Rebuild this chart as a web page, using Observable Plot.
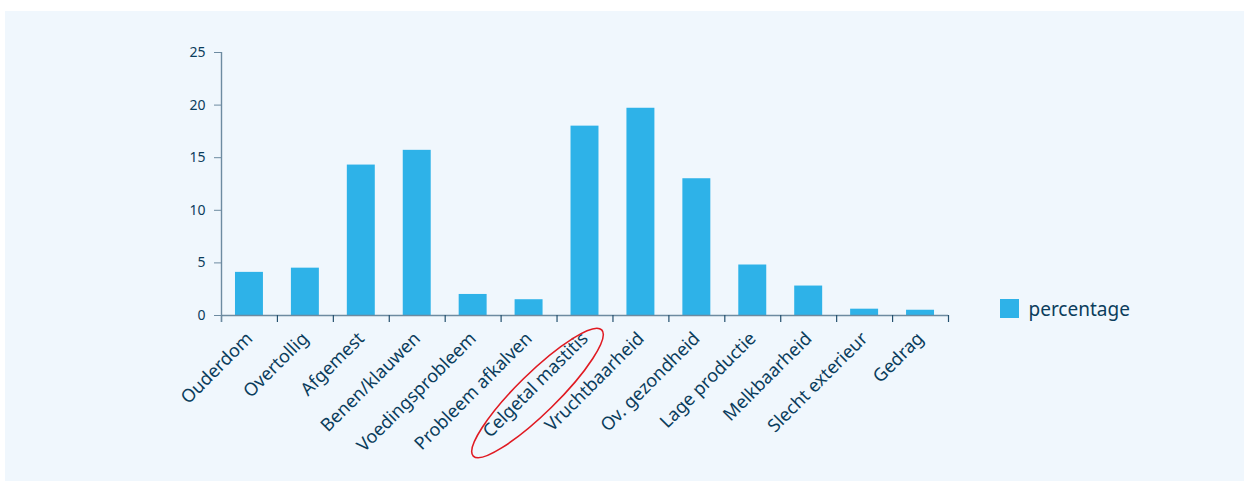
<!DOCTYPE html>
<html>
<head>
<meta charset="utf-8">
<script src="https://cdn.jsdelivr.net/npm/d3@7"></script>
<script src="https://cdn.jsdelivr.net/npm/@observablehq/plot@0.6"></script>
<style>
  html, body { margin: 0; padding: 0; background: #ffffff; }
  #panel { position: absolute; left: 5px; top: 11px; width: 1239px; height: 470px; background: #f0f7fd; }
  #legend { position: absolute; left: 995px; top: 281px; }
</style>
</head>
<body>
<div id="panel"><div id="chart"></div><div id="legend"></div></div>
<script>
const categories = ["Ouderdom", "Overtollig", "Afgemest", "Benen/klauwen", "Voedingsprobleem", "Probleem afkalven", "Celgetal mastitis", "Vruchtbaarheid", "Ov. gezondheid", "Lage productie", "Melkbaarheid", "Slecht exterieur", "Gedrag"];
const percentage = [4.1, 4.5, 14.3, 15.7, 2.0, 1.5, 18.0, 19.7, 13.0, 4.8, 2.8, 0.6, 0.5];
const yTicks = [0, 5, 10, 15, 20, 25];
const seriesName = "percentage";
const highlighted = "Celgetal mastitis";

const barColor = "#2eb2e8";
const textColor = "#0b3d5c";
const axisColor = "#6d8ba1";
const tickColor = "#24506e";

const data = categories.map((c, i) => ({category: c, value: percentage[i]}));

const W = 1239, H = 470, ML = 216, MR = 296, MT = 41, MB = 166;
const step = (W - ML - MR) / categories.length;
const tickLen = 7 / ((H - MT - MB) / 25);

const plot = Plot.plot({
  width: W, height: H,
  marginLeft: ML, marginRight: MR, marginTop: MT, marginBottom: MB,
  style: {background: "transparent", fontFamily: "Noto Sans, sans-serif", color: textColor},
  x: {domain: categories, paddingInner: 0.5, paddingOuter: 0.25, round: false, label: null},
  y: {domain: [0, 25], label: null},
  marks: [
    Plot.barY(data, {x: "category", y: "value", fill: barColor}),
    Plot.ruleY([0], {stroke: axisColor, strokeWidth: 1.6}),
    // boundary ticks below the axis
    Plot.ruleX(categories, {x: d => d, dx: -step / 2, y1: 0, y2: -tickLen, stroke: tickColor, strokeWidth: 1.2}),
    Plot.ruleX([categories[categories.length - 1]], {x: d => d, dx: step / 2, y1: 0, y2: -tickLen, stroke: tickColor, strokeWidth: 1.2}),
    // y axis line
    Plot.ruleX([categories[0]], {x: d => d, dx: -step / 2, y1: -tickLen, y2: 25, stroke: axisColor, strokeWidth: 1.4}),
    Plot.axisY({ticks: yTicks, tickSize: 7, tickPadding: 9, stroke: axisColor, fontSize: 14, fill: textColor, label: null}),
    Plot.axisX({tickSize: 0, tickRotate: -45, tickPadding: 20, fontSize: 18, fill: textColor, label: null})
  ]
});
document.getElementById("chart").appendChild(plot);

// annotation ellipse around the highlighted category label
const xs = plot.scale("x");
const ys = plot.scale("y");
const cx = xs.apply(highlighted) + xs.bandwidth / 2 - 47;
const cy = ys.apply(0) + 78;
d3.select(plot).append("ellipse")
  .attr("cx", cx).attr("cy", cy).attr("rx", 90).attr("ry", 20)
  .attr("transform", `rotate(-44.5 ${cx} ${cy})`)
  .attr("fill", "none").attr("stroke", "#e01a22").attr("stroke-width", 1.6);

const legend = Plot.legend({
  color: {domain: [seriesName], range: [barColor]},
  swatchSize: 19,
  style: {fontFamily: "Noto Sans, sans-serif", fontSize: "19px", color: textColor, background: "transparent"}
});
document.getElementById("legend").appendChild(legend);
</script>
</body>
</html>
